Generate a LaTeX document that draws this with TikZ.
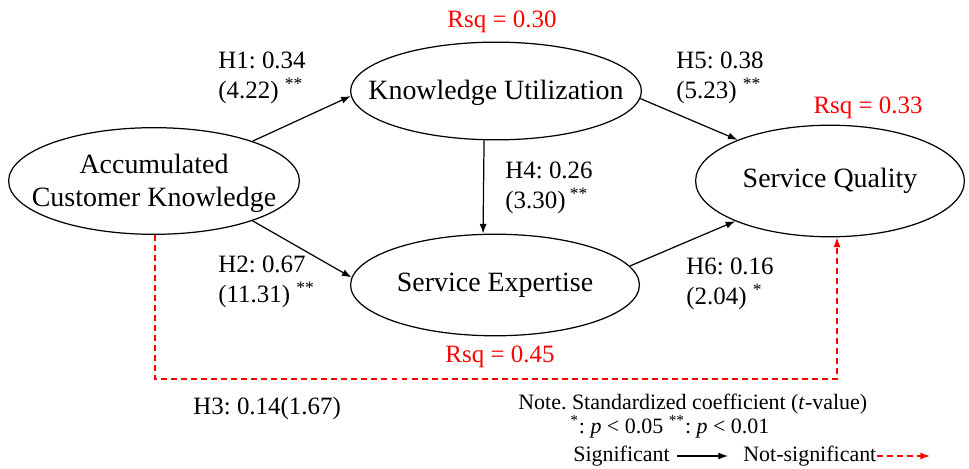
\documentclass[tikz,border=0pt]{standalone}
\usepackage{fontspec}
\setmainfont{Liberation Serif}
\usetikzlibrary{arrows.meta, shapes.geometric}
\frenchspacing

\begin{document}
\begin{tikzpicture}[x=0.02cm, y=-0.02cm, >={Latex[length=5.5pt,width=4pt]}]
  \tikzset{
    construct/.style={draw, ellipse, line width=0.7pt, inner sep=0pt},
    ctext/.style={font=\fontsize{15.9}{18.7}\selectfont, align=center},
    coef/.style={font=\fontsize{14.2}{16.8}\selectfont, anchor=west, align=left, inner sep=0pt},
    rsq/.style={font=\fontsize{14.2}{17}\selectfont, text=red, inner sep=0pt},
    note/.style={font=\fontsize{12.5}{15}\selectfont, anchor=west, inner sep=0pt},
    sig/.style={->, line width=0.7pt},
    nsig/.style={->, red, line width=0.75pt, dash pattern=on 3.4pt off 2.3pt},
  }
  \useasboundingbox (0,0) rectangle (969,469);

  % constructs
  \node[construct, minimum width=165.5pt, minimum height=60.7pt,
        label={[ctext, yshift=-1.5pt]center:Accumulated\\Customer Knowledge}] (ack) at (154,181) {};
  \node[construct, minimum width=165.5pt, minimum height=55.6pt,
        label={[ctext, yshift=-1pt]center:Knowledge Utilization}] (ku) at (496,91) {};
  \node[construct, minimum width=164.4pt, minimum height=57.8pt,
        label={[ctext]center:Service Expertise}] (se) at (495,285) {};
  \node[construct, minimum width=153pt, minimum height=63.5pt,
        label={[ctext]center:Service Quality}] (sq) at (830,181) {};

  % r-squared
  \node[rsq] (rku) at (502,22) {Rsq = 0.30};
  \node[rsq] (rsq) at (868,108) {Rsq = 0.33};
  \node[rsq] (rse) at (500,357) {Rsq = 0.45};

  % paths
  \draw[sig] (ack.22) -- (ku.182);
  \draw[sig] (ack.-22) -- (se.177);
  \draw[sig] ([xshift=-6.8pt]ku.south) -- ([xshift=-6.8pt]se.north);
  \draw[sig] (ku.-3) -- (sq.156);
  \draw[sig] (se.8) -- (sq.203);

  \coordinate (dl) at (155,379);
  \coordinate (dr) at (837,379);
  \draw[nsig] (ack.south -| dl) -- (dl) -- (dr) -- (dr |- sq.south);

  % coefficients
  \node[coef] (h1) at (218,78) {H1: 0.34\\(4.22) \textsuperscript{**}};
  \node[coef] (h2) at (218,282) {H2: 0.67\\(11.31) \textsuperscript{**}};
  \node[coef] (h4) at (505,188) {H4: 0.26\\(3.30)\,\textsuperscript{**}};
  \node[coef] (h5) at (676,78) {H5: 0.38\\(5.23) \textsuperscript{**}};
  \node[coef] (h6) at (686,284) {H6: 0.16\\(2.04) \textsuperscript{*}};
  \node[coef] (h3) at (193,408) {H3: 0.14(1.67)};

  % legend
  \node[note] (note) at (518,404) {Note. Standardized coefficient (\textit{t}-value)};
  \node[note] (pval) at (570,427) {\textsuperscript{*}: \textit{p} < 0.05 \textsuperscript{**}: \textit{p} < 0.01};
  \node[note] (sigtxt) at (573,456) {Significant};
  \node[note] (nsigtxt) at (743,456) {Not-significant};
  \coordinate (sigend) at (728,456);
  \coordinate (nsigend) at (930,456);
  \draw[sig] ([xshift=4pt]sigtxt.east) -- (sigend);
  \draw[nsig] (nsigtxt.east) -- (nsigend);
\end{tikzpicture}
\end{document}
